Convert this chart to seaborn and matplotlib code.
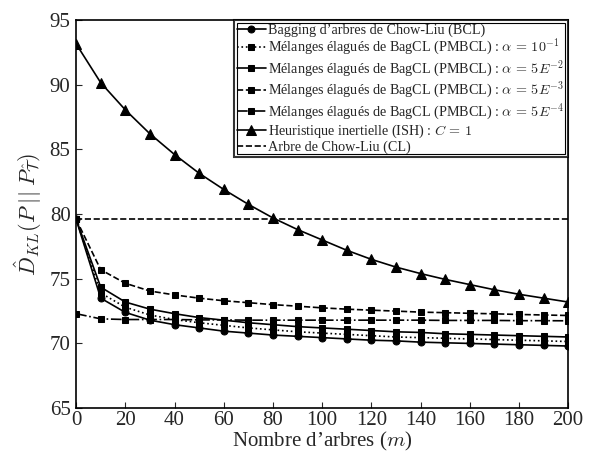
import numpy as np
import pandas as pd
import matplotlib
matplotlib.use('Agg')
import matplotlib.pyplot as plt
from matplotlib.patches import Rectangle
import seaborn as sns

# number of trees
m = [0, 10, 20, 30, 40, 50, 60, 70, 80, 90, 100, 110, 120, 130, 140, 150, 160, 170, 180, 190, 200]

# values
bcl = [79.6, 73.5, 72.4, 71.8, 71.45, 71.2, 70.95, 70.8, 70.65, 70.55, 70.45,
       70.35, 70.25, 70.2, 70.1, 70.05, 70.0, 69.95, 69.9, 69.85, 69.8]
pmbcl_1e1 = [79.6, 73.9, 72.8, 72.2, 71.85, 71.6, 71.4, 71.2, 71.05, 70.9, 70.8,
             70.7, 70.6, 70.5, 70.45, 70.4, 70.35, 70.3, 70.25, 70.2, 70.15]
pmbcl_5e2 = [79.6, 74.35, 73.2, 72.65, 72.3, 72.0, 71.8, 71.6, 71.45, 71.3, 71.2,
             71.1, 71.0, 70.9, 70.85, 70.75, 70.7, 70.65, 70.6, 70.55, 70.5]
pmbcl_5e3 = [79.6, 75.7, 74.65, 74.05, 73.75, 73.5, 73.3, 73.15, 73.0, 72.88, 72.75,
             72.65, 72.57, 72.5, 72.42, 72.38, 72.33, 72.29, 72.24, 72.2, 72.16]
pmbcl_5e4 = [72.3, 71.9, 71.85, 71.85, 71.85, 71.82, 71.82, 71.8, 71.8, 71.8, 71.8,
             71.8, 71.8, 71.8, 71.8, 71.78, 71.78, 71.78, 71.76, 71.76, 71.75]
ish = [93.15, 90.15, 88.05, 86.2, 84.6, 83.15, 81.9, 80.75, 79.7, 78.8, 78.0,
       77.2, 76.5, 75.9, 75.4, 74.95, 74.55, 74.15, 73.8, 73.5, 73.2]
cl = [79.6] * len(m)

labels = [
    "Bagging d’arbres de Chow-Liu (BCL)",
    "Mélanges élagués de BagCL (PMBCL) : $\\alpha\\,=\\,10^{-1}$",
    "Mélanges élagués de BagCL (PMBCL) : $\\alpha\\,=\\,5E^{-2}$",
    "Mélanges élagués de BagCL (PMBCL) : $\\alpha\\,=\\,5E^{-3}$",
    "Mélanges élagués de BagCL (PMBCL) : $\\alpha\\,=\\,5E^{-4}$",
    "Heuristique inertielle (ISH) : $C\\,=\\,1$",
    "Arbre de Chow-Liu (CL)",
]

sns.set_style("ticks")
plt.rcParams['font.family'] = ['Liberation Serif', 'DejaVu Serif']
plt.rcParams['mathtext.fontset'] = 'cm'

fig = plt.figure(figsize=(5.9, 4.53), dpi=100)
ax = fig.add_axes([0.129, 0.099, 0.834, 0.857])

series = [bcl, pmbcl_1e1, pmbcl_5e2, pmbcl_5e3, pmbcl_5e4, ish, cl]
styles = [('-', 'o', 5), (':', 's', 4.5), ('-', 's', 4.5), ('--', 's', 4.5),
          ('-.', 's', 4.5), ('-', '^', 6.5), ('--', None, 0)]

for vals, lab, (ls, mk, ms) in zip(series, labels, styles):
    sns.lineplot(x=m, y=vals, ax=ax, color='black', linestyle=ls, marker=mk,
                 markersize=ms, markeredgecolor='black', linewidth=1.2, label=lab)

ax.set_xlim(0, 200)
ax.set_ylim(65, 95)
ax.set_xticks(range(0, 201, 20))
ax.set_yticks(range(65, 96, 5))
ax.tick_params(direction='in', labelsize=15, length=4, width=0.8)
ax.tick_params(axis='x', pad=2)
ax.tick_params(axis='y', pad=4)
for s in ax.spines.values():
    s.set_linewidth(1.2)
    s.set_color('black')

ax.set_xlabel("Nombre d’arbres ($m$)", fontsize=15, labelpad=0)
ax.set_ylabel("$\\hat{D}_{KL}(P\\;||\\;P_{\\hat{\\mathcal{T}}})$", fontsize=16, labelpad=4)

leg = ax.legend(loc='upper right', fontsize=10.2, frameon=True, fancybox=False,
                borderaxespad=0.0, handlelength=2.0, handletextpad=0.2,
                labelspacing=0.0, borderpad=0.25)
leg.get_frame().set_edgecolor('black')
leg.get_frame().set_linewidth(1.5)

# inner line of the double frame
fig.canvas.draw()
bb = leg.get_window_extent().transformed(fig.transFigure.inverted())
dx, dy = 3 / 590, 3 / 453
fig.patches.append(Rectangle((bb.x0 + dx, bb.y0 + dy), bb.width - 2 * dx, bb.height - 2 * dy,
                             transform=fig.transFigure, fill=False, edgecolor='black',
                             linewidth=0.8, zorder=10))

fig.savefig('out.png', dpi=100)
